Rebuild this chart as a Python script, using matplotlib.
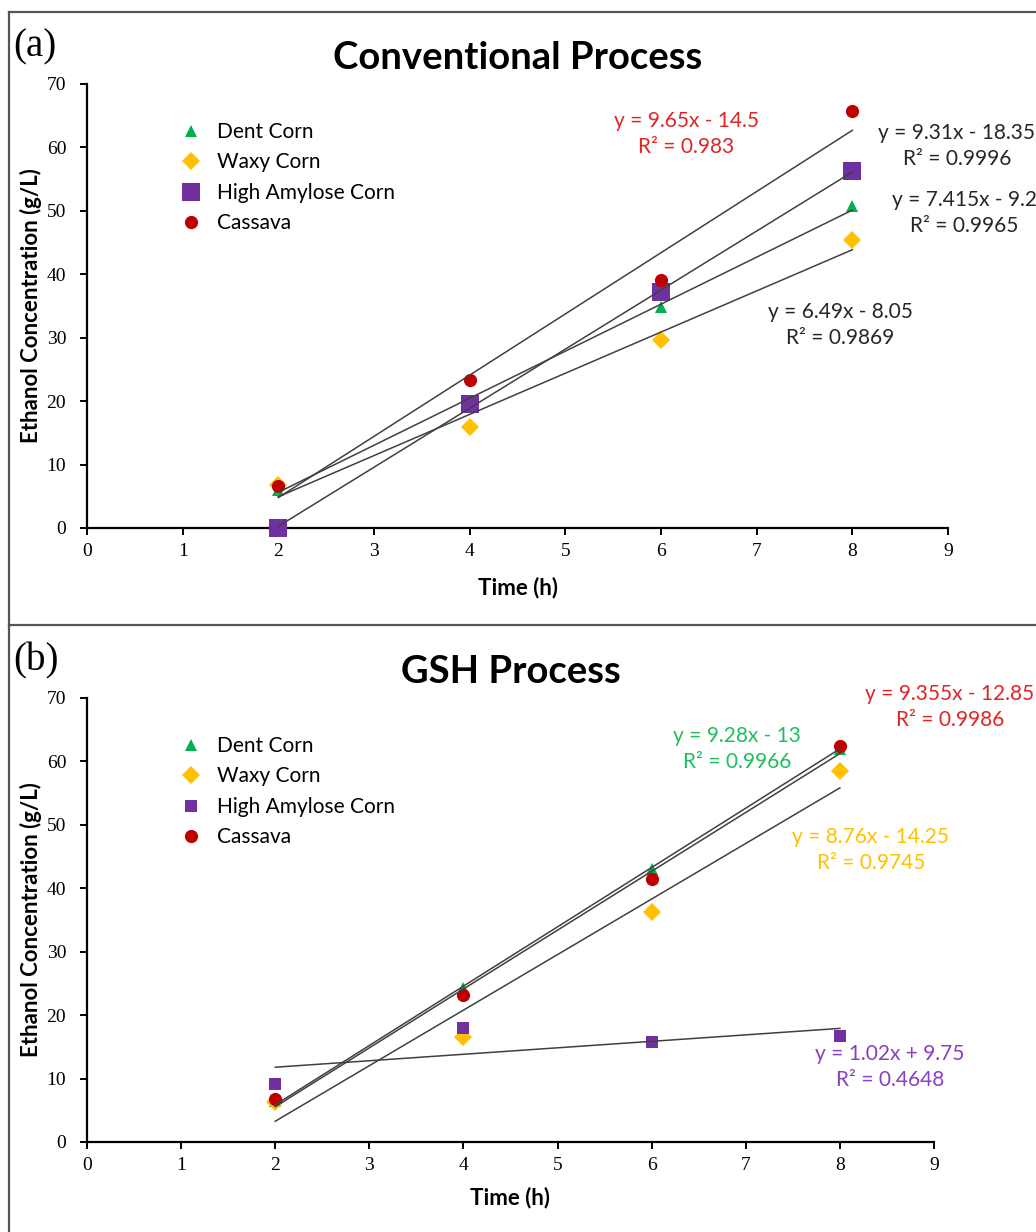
import matplotlib
matplotlib.use("Agg")
import matplotlib.pyplot as plt
from matplotlib.lines import Line2D

W, H = 1036, 1232

# data
time_h = [2, 4, 6, 8]
series = ["Dent Corn", "Waxy Corn", "High Amylose Corn", "Cassava"]

conv_dent = [6.0, 19.8, 34.8, 50.8]
conv_waxy = [6.8, 15.9, 29.6, 45.4]
conv_hac = [0.0, 19.5, 37.2, 56.3]
conv_cassava = [6.6, 23.3, 39.1, 65.7]

gsh_dent = [6.4, 24.3, 43.0, 62.0]
gsh_waxy = [6.3, 16.5, 36.3, 58.5]
gsh_hac = [9.1, 18.0, 15.8, 16.7]
gsh_cassava = [6.8, 23.1, 41.4, 62.5]

# trendline coefficients as printed on the chart
conv_slope = [7.415, 6.49, 9.31, 9.65]
conv_icpt = [-9.2, -8.05, -18.35, -14.5]
conv_r2 = ["0.9965", "0.9869", "0.9996", "0.983"]

gsh_slope = [9.28, 8.76, 1.02, 9.355]
gsh_icpt = [-13, -14.25, 9.75, -12.85]
gsh_r2 = ["0.9966", "0.9745", "0.4648", "0.9986"]

colors = ["#00B050", "#FFC000", "#7030A0", "#C00000"]
markers = ["^", "D", "s", "o"]

sans = ["Lato", "DejaVu Sans"]
serif = ["Liberation Serif", "DejaVu Serif"]


def fx(px):
    return px / W


def fy(py):
    return 1 - py / H


def eq_text(s, b, r2):
    sign = "-" if b < 0 else "+"
    return f"y = {s:g}x {sign} {abs(b):g}\nR\u00b2 = {r2}"


def panel(ax, ys, slopes, icpts, r2s, msizes, txt_colors, txt_pos, title, tag, tag_y, xl_y):
    for i, y in enumerate(ys):
        ax.plot(time_h, y, ls="none", marker=markers[i], color=colors[i],
                markersize=msizes[i], markeredgewidth=0, label=series[i],
                zorder=2, clip_on=False)
    for i in range(4):
        x0, x1 = time_h[0], time_h[-1]
        ax.plot([x0, x1], [slopes[i] * x0 + icpts[i], slopes[i] * x1 + icpts[i]],
                color="#404040", lw=1.1, zorder=3)
    ax.set_xlim(0, 9)
    ax.set_ylim(0, 70)
    ax.set_xticks(range(0, 10))
    ax.set_yticks(range(0, 71, 10))
    for s in ["top", "right"]:
        ax.spines[s].set_visible(False)
    for s in ["left", "bottom"]:
        ax.spines[s].set_linewidth(1.6)
        ax.spines[s].set_zorder(1)
    ax.tick_params(direction="out", length=5, width=1.4)
    ax.tick_params(axis="y", pad=10)
    ax.tick_params(axis="x", pad=6)
    for lab in ax.get_xticklabels() + ax.get_yticklabels():
        lab.set_family(serif)
        lab.set_fontsize(14)
    ax.set_xlabel("Time (h)", family=sans, fontweight="bold", fontsize=16)
    ax.set_ylabel("Ethanol Concentration (g/L)", family=sans, fontweight="bold", fontsize=16)
    pos = ax.get_position()
    ax.yaxis.set_label_coords((42 - 87) / (pos.width * W), 0.5)
    fig = ax.figure
    ax.xaxis.set_label_coords(0.5, (fy(xl_y) - pos.y0) / pos.height)
    ax.xaxis.label.set_va("center")

    ax.legend(loc="upper left", bbox_to_anchor=(fx(182), fy(tag_y + 75)),
              bbox_transform=fig.transFigure, frameon=False,
              prop={"family": sans, "size": 15}, handlelength=0.9,
              handletextpad=0.8, labelspacing=0.5, borderpad=0, borderaxespad=0)

    for i in range(4):
        cx, cy = txt_pos[i]
        fig.text(fx(cx), fy(cy), eq_text(slopes[i], icpts[i], r2s[i]), ha="center", va="center",
                 color=txt_colors[i], family=sans, fontsize=15, linespacing=1.35)

    fig.text(0.5 * (pos.x0 + pos.x1), fy(tag_y + 11), title, ha="center", va="center",
             family=sans, fontweight="bold", fontsize=27.5)
    fig.text(fx(13), fy(tag_y), tag, ha="left", va="center", family=serif, fontsize=28)


fig = plt.figure(figsize=(W / 100, H / 100), dpi=100)

ax1 = fig.add_axes([fx(87), fy(528), (948 - 87) / W, (528 - 84) / H])
ax2 = fig.add_axes([fx(87), fy(1142), (934 - 87) / W, (1142 - 698) / H])

panel(ax1, [conv_dent, conv_waxy, conv_hac, conv_cassava], conv_slope, conv_icpt, conv_r2,
      [9, 9, 12.5, 9.5], ["#262626", "#262626", "#262626", "#E02424"],
      [(964, 213), (840, 325), (957, 146), (686, 134)],
      "Conventional Process", "(a)", 47, 588)

panel(ax2, [gsh_dent, gsh_waxy, gsh_hac, gsh_cassava], gsh_slope, gsh_icpt, gsh_r2,
      [9, 9, 8.5, 9.5], ["#1FBF60", "#FFC000", "#8A3FC0", "#E02424"],
      [(737, 749), (871, 850), (890, 1067), (950, 707)],
      "GSH Process", "(b)", 661, 1198)

# panel frames
frame = dict(color="#555555", lw=1.6, transform=fig.transFigure)
fig.add_artist(Line2D([fx(9), fx(9)], [fy(12), 0], **frame))
fig.add_artist(Line2D([fx(9), 1], [fy(12), fy(12)], **frame))
fig.add_artist(Line2D([fx(9), 1], [fy(625), fy(625)], **frame))

fig.savefig("out.png", dpi=100)
